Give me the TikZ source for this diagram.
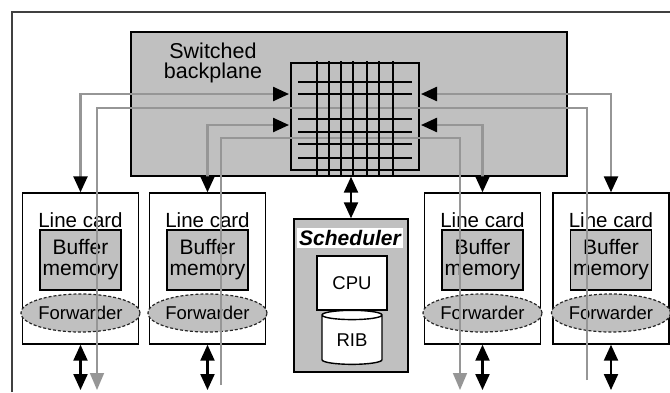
\documentclass[tikz,border=0pt]{standalone}
\usepackage{fontspec}
\setmainfont{Liberation Sans}
\usetikzlibrary{arrows.meta,shapes.geometric}
\definecolor{panel}{RGB}{192,192,192}
\definecolor{wire}{RGB}{150,150,150}
\definecolor{framegray}{RGB}{64,64,64}
\tikzset{hd/.tip={Triangle[length=16pt,width=14pt,color=black]}}

\begin{document}
\begin{tikzpicture}[x=1pt,y=-1pt,
    box/.style={draw=black, line width=1.4pt, inner sep=0pt},
    grid line/.style={line width=2pt},
    feed/.style={draw=wire, line width=2.4pt, hd-hd},
    transit/.style={draw=wire, line width=1.6pt, -{Triangle[length=17pt,width=14pt]}},
    port/.style={line width=2.2pt, hd-hd}]
  \useasboundingbox (0,0) rectangle (670,392);
  \draw[framegray, line width=1.6pt] (12,392) -- (12,12) -- (670,12);

  % backplane and crossbar
  \node[box, fill=panel, minimum width=436, minimum height=144] (bp) at (349,104) {};
  \node[font=\fontsize{21.5}{20}\selectfont, align=center] (bplabel) at (213,63) {Switched\\backplane};
  \node[box, minimum width=128, minimum height=107] (xbar) at (355,116.5) {};

  % line cards
  \foreach \i/\x in {1/80.5,2/207.5,3/482.5,4/611} {
    \node[box, minimum width=116, minimum height=151] (card\i) at (\x,268.5) {};
    \node[font=\fontsize{20.5}{20}\selectfont] (lc\i) at (\x,220) {Line card};
    \node[box, fill=panel, minimum width=81, minimum height=60, align=center,
      font=\fontsize{21}{21}\selectfont] (buf\i) at (\x,260) {Buffer\\memory};
    \node[ellipse, draw=black!85, line width=1.2pt, dash pattern=on 3pt off 2pt, fill=panel,
      minimum width=106, minimum height=38, inner sep=0pt,
      font=\fontsize{18.5}{18}\selectfont] (fwd\i) at (\x,313) {Forwarder};
    \coordinate (io\i) at (\x,390);
    \draw[port] (card\i.south) -- (io\i);
  }

  % scheduler
  \node[box, fill=panel, minimum width=114, minimum height=153] (sched) at (351,295.5) {};
  \node[fill=white, minimum width=106, minimum height=20, inner sep=0pt,
    font=\bfseries\itshape\fontsize{21}{21}\selectfont] (schedlabel) at (350,238) {Scheduler};
  \node[box, fill=white, minimum width=70, minimum height=54,
    font=\fontsize{18.5}{18}\selectfont] (cpu) at (352,283) {CPU};
  \node[cylinder, shape border rotate=90, aspect=0.3, draw, line width=1.4pt, fill=white,
    minimum width=60, minimum height=54, inner sep=0pt,
    font=\fontsize{18.5}{18}\selectfont] (rib) at (352,340) {RIB};
  \draw[port] (sched.north) -- (sched.north |- bp.south);

  % paths through the crossbar
  \coordinate (inL1) at (289,94);
  \coordinate (inL2) at (289,125);
  \coordinate (inR1) at (421,94);
  \coordinate (inR2) at (421,125);
  \draw[feed] (inL1) -| (card1.north);
  \draw[feed] (inL2) -| (card2.north);
  \draw[feed] (inR1) -| (card4.north);
  \draw[feed] (inR2) -| (card3.north);

  \coordinate (srcA) at (587,380);
  \coordinate (dstA) at (97,390);
  \coordinate (srcB) at (221,385);
  \coordinate (dstB) at (460,390);
  \draw[transit] (srcA) -- (587,108) -- (97,108) -- (dstA);
  \draw[transit] (srcB) -- (221,138) -- (460,138) -- (dstB);

  \foreach \x in {317,329,341,353,367,379,393}
    \draw[grid line] (\x,61) -- (\x,176);
  \foreach \y in {82,94,119,132,144,158}
    \draw[grid line] (298,\y) -- (412,\y);
\end{tikzpicture}
\end{document}
